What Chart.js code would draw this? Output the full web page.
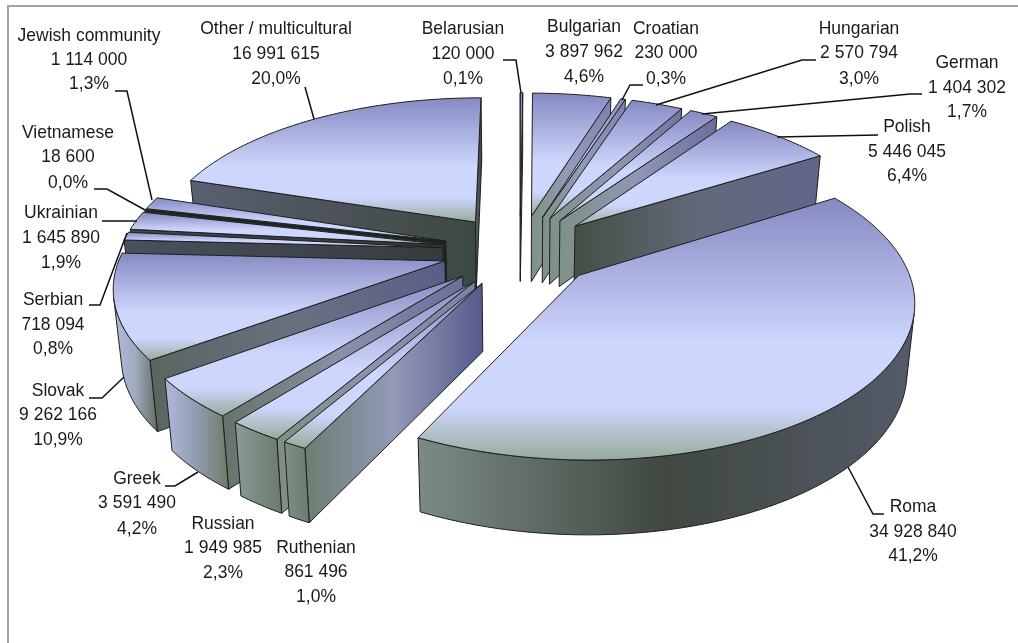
<!DOCTYPE html>
<html>
<head>
<meta charset="utf-8">
<title>Ethnic minorities</title>
<script src="https://cdn.jsdelivr.net/npm/chart.js@4"></script>
<style>
  html, body { margin: 0; padding: 0; background: #fff; overflow: hidden; }
  #frame { position: absolute; left: 7px; top: 5px; width: 1100px; height: 800px; border: 2px solid #a3a3a3; box-sizing: border-box; }
  #chart { position: absolute; left: 0; top: 0; }
</style>
</head>
<body>
<div id="frame"></div>
<canvas id="chart" width="1018" height="643"></canvas>
<script>
var categories = ["Belarusian", "Bulgarian", "Croatian", "Hungarian", "German", "Polish", "Roma", "Ruthenian",
                  "Russian", "Greek", "Slovak", "Serbian", "Ukrainian", "Vietnamese", "Jewish community", "Other / multicultural"];
var values = [120000, 3897962, 230000, 2570794, 1404302, 5446045, 34928840, 861496,
              1949985, 3591490, 9262166, 718094, 1645890, 18600, 1114000, 16991615];

// where each label sits: centre x, y of the three lines, then its leader line
var labelLayout = {
  "Belarusian": { x: 463, y: [29, 54, 79], leader: [[503, 60], [516, 60], [521, 93]] },
  "Bulgarian": { x: 584, y: [27, 52, 77], leader: [] },
  "Croatian": { x: 666, y: [29, 53, 79], leader: [[643, 85], [630, 85], [622, 100]] },
  "Hungarian": { x: 859, y: [29, 53, 79], leader: [[816, 60], [802, 60], [656, 105]] },
  "German": { x: 967, y: [63, 88, 112], leader: [[922, 94], [910, 94], [702, 114]] },
  "Polish": { x: 907, y: [127, 152, 176], leader: [[878, 135], [777, 137]] },
  "Roma": { x: 913, y: [507, 532, 556], leader: [[884, 514], [873, 514], [848, 467]] },
  "Ruthenian": { x: 316, y: [548, 572, 597], leader: [] },
  "Russian": { x: 223, y: [524, 548, 573], leader: [] },
  "Greek": { x: 137, y: [479, 503, 529], leader: [[165, 486], [175, 486], [198, 472]] },
  "Slovak": { x: 58, y: [391, 415, 440], leader: [[89, 398], [102, 398], [124, 377]] },
  "Serbian": { x: 53, y: [300, 325, 349], leader: [[89, 305], [100, 305], [127, 233]] },
  "Ukrainian": { x: 61, y: [213, 238, 263], leader: [[102, 221], [137, 221]] },
  "Vietnamese": { x: 68, y: [133, 157, 183], leader: [[94, 189], [107, 189], [145, 210]] },
  "Jewish community": { x: 89, y: [36, 60, 84], leader: [[115, 91], [127, 91], [152, 200]] },
  "Other / multicultural": { x: 276, y: [29, 54, 79], leader: [[305, 87], [314, 119]] }
};

// wall shading, left to right across each face
var cutWall = {
  "Bulgarian": ["#7f9088", "#939bbb", "#7e84aa"],
  "Croatian": ["#7f9088", "#939bbb", "#7e84aa"],
  "Hungarian": ["#7f9088", "#8f97b4", "#6f74a0"],
  "German": ["#7f9088", "#8f97b4", "#6a6f9c"],
  "Polish": ["#454f45", "#62687a", "#62668a"],
  "Ruthenian": ["#6c7d70", "#929ab8", "#565a8c"],
  "Russian": ["#7f8f80", "#8d93ac", "#7a80a0"],
  "Greek": ["#667368", "#8a90a8", "#6a6e9a"],
  "Slovak": ["#5c6462", "#6a7080", "#5a5e88"],
  "Serbian": ["#4a5060", "#40454f", "#363c3c"],
  "Ukrainian": ["#3f4450", "#3a3f48", "#30353a"],
  "Vietnamese": ["#2a2d33", "#2a2d33", "#2a2d33"],
  "Jewish community": ["#3f4450", "#3a3f48", "#30353a"],
  "Other / multicultural": ["#5a6070", "#4c5258", "#3e4842"]
};
var rimWall = {
  "Roma": ["#7b8b85", "#404840", "#555a6a"],
  "Ruthenian": ["#808f85", "#75857a", "#6c7b6d"],
  "Russian": ["#8a9a9a", "#7a8a80", "#6a7a6c"],
  "Greek": ["#b0b8dc", "#8f9cae", "#6d7a6a"],
  "Slovak": ["#b4bcdc", "#a0aac0", "#606e60"]
};

// plane of the pie seen in perspective, in units of the pie radius
var view = { cx: 520, cy: 250.5, scaleX: 323, scaleY: 150, persp: 0.145, depth: 67, depthPersp: 0.09, shrink: 0.02 };

function project(u, v, z) {
  var w = 1 - view.persp * v;
  var k = 1 - view.shrink * z;
  return [view.cx + view.scaleX * u * k / w, view.cy + view.scaleY * v / w + view.depth * z / (1 - view.depthPersp * v)];
}

function tracePath(ctx, pts) {
  ctx.beginPath();
  pts.forEach(function (p, i) { if (i) ctx.lineTo(p[0], p[1]); else ctx.moveTo(p[0], p[1]); });
  ctx.closePath();
}

function paintFace(ctx, pts, fill) {
  tracePath(ctx, pts);
  ctx.fillStyle = fill;
  ctx.fill();
  ctx.strokeStyle = "#1c1f1c";
  ctx.lineWidth = 1;
  ctx.lineJoin = "round";
  ctx.stroke();
}

function spanGradient(ctx, pts, vertical, stops) {
  var idx = vertical ? 1 : 0;
  var list = pts.map(function (p) { return p[idx]; });
  var lo = Math.min.apply(null, list), hi = Math.max.apply(null, list);
  var g = vertical ? ctx.createLinearGradient(0, lo, 0, hi) : ctx.createLinearGradient(lo, 0, hi, 0);
  stops.forEach(function (s) { g.addColorStop(s[0], s[1]); });
  return g;
}

function threeStops(c) { return [[0, c[0]], [0.5, c[1]], [1, c[2]]]; }

function crossZ(a, b, c) { return (b[0] - a[0]) * (c[1] - a[1]) - (b[1] - a[1]) * (c[0] - a[0]); }

function drawSlice(ctx, arc, name) {
  var mid = (arc.startAngle + arc.endAngle) / 2;
  var off = arc.options.offset / arc.outerRadius;
  var ax = off * Math.cos(mid), ay = off * Math.sin(mid);
  var rim = [];
  var steps = Math.max(2, Math.ceil((arc.endAngle - arc.startAngle) / 0.015));
  for (var i = 0; i <= steps; i++) {
    var a = arc.startAngle + (arc.endAngle - arc.startAngle) * i / steps;
    rim.push([ax + Math.cos(a), ay + Math.sin(a)]);
  }
  var up = function (p) { return project(p[0], p[1], 0); };
  var down = function (p) { return project(p[0], p[1], 1); };
  var apex = [ax, ay];
  var first = rim[0], last = rim[rim.length - 1];
  var shades = cutWall[name] || ["#7f9088", "#939bbb", "#7e84aa"];

  // the two straight cut faces, only where they turn towards the viewer
  [[first, -1], [last, 1]].forEach(function (e) {
    var s = crossZ(up(apex), up(e[0]), down(apex));
    if (s * e[1] > 0) {
      var quad = [up(apex), up(e[0]), down(e[0]), down(apex)];
      paintFace(ctx, quad, spanGradient(ctx, quad, false, threeStops(shades)));
    }
  });

  // curved outer wall, front facing part
  var seen = [];
  for (var j = 0; j < rim.length - 1; j++) {
    if (crossZ(up(rim[j]), up(rim[j + 1]), down(rim[j])) < 0) {
      if (!seen.length) seen.push(rim[j]);
      seen.push(rim[j + 1]);
    }
  }
  if (seen.length) {
    var wall = seen.map(up).concat(seen.slice().reverse().map(down));
    paintFace(ctx, wall, spanGradient(ctx, wall, false, threeStops(rimWall[name] || ["#808f85", "#75857a", "#6c7b6d"])));
  }

  // top surface
  var top = [up(apex)].concat(rim.map(up));
  paintFace(ctx, top, spanGradient(ctx, top, true, [[0, "#8589c2"], [0.55, "#cdd6fd"], [0.8, "#cdd6fd"], [1, "#97ab9b"]]));
}

var pie3d = {
  id: "pie3d",
  beforeDatasetDraw: function (chart) {
    var ctx = chart.ctx;
    var arcs = chart.getDatasetMeta(0).data;
    var order = arcs.map(function (a, i) { return i; });
    // paint from the back of the pie to the front
    order.sort(function (p, q) {
      return Math.sin((arcs[p].startAngle + arcs[p].endAngle) / 2) - Math.sin((arcs[q].startAngle + arcs[q].endAngle) / 2);
    });
    ctx.save();
    order.forEach(function (i) { drawSlice(ctx, arcs[i], categories[i]); });
    ctx.restore();
    return false;
  }
};

function formatCount(n) { return String(n).replace(/\B(?=(\d{3})+$)/g, " "); }

var sliceLabels = {
  id: "sliceLabels",
  afterDraw: function (chart) {
    var ctx = chart.ctx;
    var total = values.reduce(function (s, n) { return s + n; }, 0);
    ctx.save();
    ctx.font = '19px "Liberation Sans"';
    ctx.fillStyle = "#1a1a1a";
    ctx.textAlign = "center";
    ctx.textBaseline = "middle";
    categories.forEach(function (name, i) {
      var l = labelLayout[name];
      var lines = [name, formatCount(values[i]), (values[i] / total * 100).toFixed(1).replace(".", ",") + "%"];
      lines.forEach(function (t, k) {
        ctx.fillText(t, l.x, l.y[k], ctx.measureText(t).width * 0.92);
      });
      if (l.leader.length) {
        ctx.beginPath();
        l.leader.forEach(function (p, k) { if (k) ctx.lineTo(p[0], p[1]); else ctx.moveTo(p[0], p[1]); });
        ctx.strokeStyle = "#111";
        ctx.lineWidth = 1.5;
        ctx.stroke();
      }
    });
    ctx.restore();
  }
};

new Chart(document.getElementById("chart"), {
  type: "pie",
  data: {
    labels: categories,
    datasets: [{ data: values, backgroundColor: "#cdd6fd", borderWidth: 0, offset: 69 }]
  },
  options: {
    responsive: false,
    animation: false,
    plugins: { legend: { display: false }, tooltip: { enabled: false } }
  },
  plugins: [pie3d, sliceLabels]
});
</script>
</body>
</html>
